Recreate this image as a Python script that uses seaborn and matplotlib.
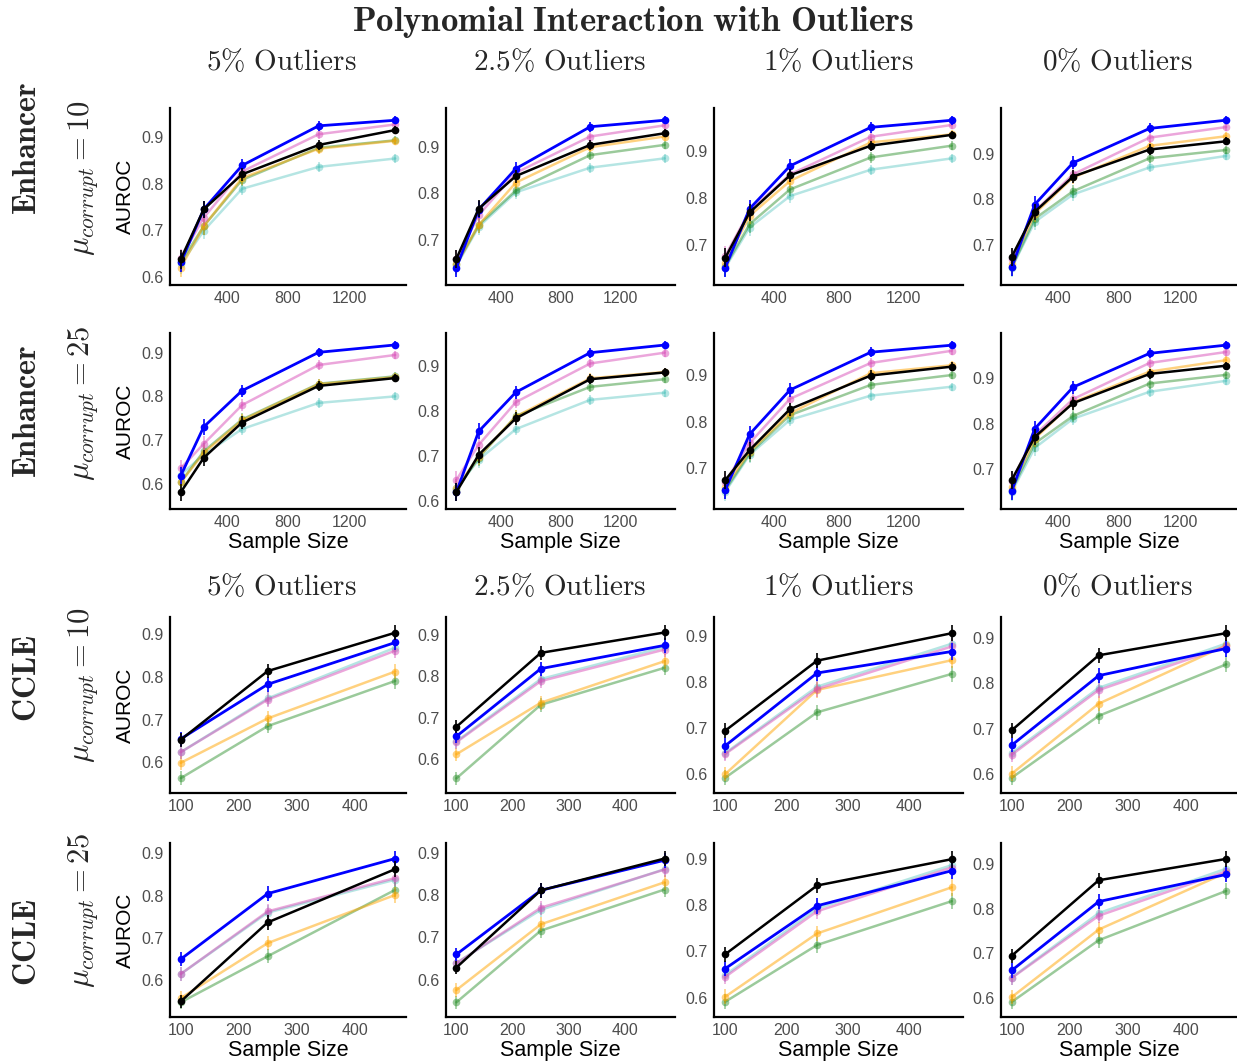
import numpy as np
import pandas as pd
import matplotlib
matplotlib.use("Agg")
import matplotlib.pyplot as plt
import seaborn as sns
from matplotlib.ticker import FormatStrFormatter

# sample sizes on the x axis
enh_sizes = [100, 250, 500, 1000, 1500]
ccle_sizes = [100, 250, 470]
enh_xticks = [400, 800, 1200]
ccle_xticks = [100, 200, 300, 400]
auroc_ticks = [0.6, 0.7, 0.8, 0.9]

# half-width of the error bars at each sample size
enh_err = [0.020, 0.018, 0.014, 0.011, 0.009]
ccle_err = [0.016, 0.017, 0.018]

outlier_labels = ["5\\%\\ Outliers", "2.5\\%\\ Outliers", "1\\%\\ Outliers", "0\\%\\ Outliers"]
datasets = ["Enhancer", "Enhancer", "CCLE", "CCLE"]
mu_values = ["10", "25", "10", "25"]

# draw order: faded ones first, blue and black on top
series_names = ["teal", "green", "orange", "pink", "blue", "black"]
series_colors = {"teal": "#20B2AA", "green": "#228B22", "orange": "#FFA500",
                 "pink": "#D84FB8", "blue": "#0000FF", "black": "#000000"}
series_alpha = {"teal": 0.33, "green": 0.45, "orange": 0.5,
                "pink": 0.5, "blue": 1.0, "black": 1.0}

# ---- Enhancer, mu_corrupt = 10 (one list per outlier column) ----
enh10_blue = [[0.631, 0.745, 0.839, 0.924, 0.936], [0.640, 0.765, 0.853, 0.943, 0.957],
              [0.652, 0.777, 0.868, 0.950, 0.965], [0.652, 0.789, 0.880, 0.955, 0.973]]
enh10_black = [[0.638, 0.745, 0.820, 0.883, 0.915], [0.659, 0.767, 0.837, 0.904, 0.929],
               [0.673, 0.769, 0.848, 0.911, 0.934], [0.675, 0.773, 0.850, 0.909, 0.927]]
enh10_pink = [[0.641, 0.727, 0.826, 0.906, 0.927], [0.658, 0.753, 0.844, 0.922, 0.946],
              [0.677, 0.772, 0.850, 0.930, 0.955], [0.671, 0.774, 0.855, 0.935, 0.958]]
enh10_orange = [[0.620, 0.709, 0.812, 0.875, 0.892], [0.647, 0.732, 0.823, 0.899, 0.922],
                [0.662, 0.762, 0.836, 0.918, 0.935], [0.660, 0.769, 0.848, 0.917, 0.938]]
enh10_green = [[0.631, 0.709, 0.808, 0.877, 0.893], [0.647, 0.732, 0.806, 0.882, 0.904],
               [0.655, 0.744, 0.818, 0.886, 0.911], [0.652, 0.758, 0.818, 0.890, 0.908]]
enh10_teal = [[0.627, 0.699, 0.789, 0.836, 0.854], [0.644, 0.728, 0.802, 0.855, 0.875],
              [0.652, 0.737, 0.804, 0.860, 0.884], [0.651, 0.751, 0.811, 0.870, 0.895]]

# ---- Enhancer, mu_corrupt = 25 ----
enh25_blue = [[0.618, 0.730, 0.813, 0.901, 0.918], [0.620, 0.755, 0.842, 0.930, 0.947],
              [0.654, 0.773, 0.868, 0.949, 0.964], [0.653, 0.789, 0.880, 0.954, 0.972]]
enh25_black = [[0.580, 0.659, 0.740, 0.824, 0.842], [0.620, 0.703, 0.784, 0.871, 0.886],
               [0.675, 0.739, 0.827, 0.899, 0.918], [0.677, 0.771, 0.845, 0.909, 0.927]]
enh25_pink = [[0.635, 0.691, 0.780, 0.872, 0.895], [0.647, 0.725, 0.820, 0.906, 0.930],
              [0.671, 0.754, 0.849, 0.926, 0.952], [0.675, 0.775, 0.854, 0.933, 0.957]]
enh25_orange = [[0.603, 0.670, 0.745, 0.828, 0.844], [0.629, 0.699, 0.788, 0.873, 0.887],
                [0.661, 0.736, 0.818, 0.904, 0.921], [0.662, 0.767, 0.847, 0.914, 0.939]]
enh25_green = [[0.603, 0.674, 0.747, 0.829, 0.846], [0.625, 0.696, 0.789, 0.854, 0.871],
               [0.654, 0.732, 0.814, 0.879, 0.900], [0.655, 0.757, 0.817, 0.888, 0.907]]
enh25_teal = [[0.620, 0.666, 0.725, 0.785, 0.800], [0.629, 0.692, 0.760, 0.825, 0.841],
              [0.650, 0.729, 0.804, 0.856, 0.875], [0.651, 0.747, 0.811, 0.870, 0.894]]

# ---- CCLE, mu_corrupt = 10 ----
ccle10_blue = [[0.655, 0.783, 0.881], [0.655, 0.818, 0.874], [0.661, 0.820, 0.867], [0.663, 0.817, 0.877]]
ccle10_black = [[0.653, 0.814, 0.904], [0.678, 0.856, 0.905], [0.694, 0.847, 0.907], [0.696, 0.862, 0.911]]
ccle10_pink = [[0.624, 0.747, 0.862], [0.641, 0.788, 0.864], [0.643, 0.785, 0.878], [0.642, 0.785, 0.882]]
ccle10_orange = [[0.599, 0.703, 0.813], [0.612, 0.736, 0.836], [0.599, 0.783, 0.848], [0.600, 0.755, 0.884]]
ccle10_green = [[0.563, 0.685, 0.791], [0.554, 0.731, 0.820], [0.591, 0.734, 0.818], [0.591, 0.728, 0.842]]
ccle10_teal = [[0.624, 0.750, 0.869], [0.643, 0.793, 0.870], [0.645, 0.790, 0.884], [0.646, 0.790, 0.888]]

# ---- CCLE, mu_corrupt = 25 ----
ccle25_blue = [[0.650, 0.805, 0.888], [0.660, 0.811, 0.882], [0.663, 0.799, 0.875], [0.661, 0.816, 0.877]]
ccle25_black = [[0.550, 0.737, 0.863], [0.629, 0.811, 0.886], [0.694, 0.843, 0.900], [0.694, 0.864, 0.912]]
ccle25_pink = [[0.615, 0.763, 0.842], [0.639, 0.770, 0.860], [0.645, 0.787, 0.882], [0.644, 0.784, 0.884]]
ccle25_orange = [[0.558, 0.688, 0.802], [0.576, 0.731, 0.830], [0.602, 0.739, 0.839], [0.601, 0.753, 0.881]]
ccle25_green = [[0.548, 0.657, 0.814], [0.547, 0.716, 0.813], [0.591, 0.714, 0.809], [0.590, 0.729, 0.840]]
ccle25_teal = [[0.615, 0.760, 0.838], [0.640, 0.765, 0.861], [0.649, 0.793, 0.887], [0.645, 0.790, 0.890]]

row_data = [
    {"teal": enh10_teal, "green": enh10_green, "orange": enh10_orange,
     "pink": enh10_pink, "blue": enh10_blue, "black": enh10_black},
    {"teal": enh25_teal, "green": enh25_green, "orange": enh25_orange,
     "pink": enh25_pink, "blue": enh25_blue, "black": enh25_black},
    {"teal": ccle10_teal, "green": ccle10_green, "orange": ccle10_orange,
     "pink": ccle10_pink, "blue": ccle10_blue, "black": ccle10_black},
    {"teal": ccle25_teal, "green": ccle25_green, "orange": ccle25_orange,
     "pink": ccle25_pink, "blue": ccle25_blue, "black": ccle25_black},
]

sns.set_style("white")
plt.rcParams["font.family"] = ["Liberation Sans", "DejaVu Sans"]
plt.rcParams["mathtext.fontset"] = "cm"

W, H = 1237, 1061
fig = plt.figure(figsize=(W / 100, H / 100), dpi=100)

# panel boxes in pixels: (left, right) per column, (top, bottom) per row
col_px = [(170, 406), (446, 675), (714, 963), (1001, 1237)]
row_px = [(108, 285), (333, 509), (617, 793), (843, 1017)]
title_x = [281, 560, 838, 1117]


def px_axes(l, r, t, b):
    return fig.add_axes([l / W, 1 - b / H, (r - l) / W, (b - t) / H])


for i in range(4):
    is_enh = datasets[i] == "Enhancer"
    sizes = enh_sizes if is_enh else ccle_sizes
    errs = enh_err if is_enh else ccle_err
    for j in range(4):
        l, r = col_px[j]
        t, b = row_px[i]
        ax = px_axes(l, r, t, b)
        for name in series_names:
            vals = np.array(row_data[i][name][j])
            df = pd.DataFrame({"size": sizes, "auroc": vals})
            col = series_colors[name]
            a = series_alpha[name]
            lw = 2.0 if name == "blue" else 1.8
            sns.lineplot(data=df, x="size", y="auroc", ax=ax, color=col, alpha=a,
                         linewidth=lw, marker="o", markersize=5.5,
                         markeredgewidth=0, zorder=3)
            ax.vlines(sizes, vals - np.array(errs), vals + np.array(errs),
                      color=col, alpha=a, linewidth=1.2, zorder=3)
        ax.margins(x=0.05, y=0.05)
        ax.autoscale_view()
        lo, hi = ax.get_ylim()
        ax.set_yticks([v for v in auroc_ticks if lo <= v <= hi])
        ax.set_ylim(lo, hi)
        ax.set_xticks(enh_xticks if is_enh else ccle_xticks)
        ax.yaxis.set_major_formatter(FormatStrFormatter("%.1f"))
        for s in ["top", "right"]:
            ax.spines[s].set_visible(False)
        for s in ["left", "bottom"]:
            ax.spines[s].set_color("black")
            ax.spines[s].set_linewidth(1.6)
        ax.tick_params(direction="out", length=3, width=0.8, color="#333333",
                       labelcolor="#4D4D4D", labelsize=11.5, pad=1.5)
        ax.grid(False)
        if j == 0:
            ax.set_ylabel("AUROC", fontsize=15, color="black")
            ax.yaxis.set_label_coords(-0.15, 0.5)
        else:
            ax.set_ylabel("")
        if i in (1, 3):
            ax.set_xlabel("Sample Size", fontsize=15.5, color="black", labelpad=1.5)
        else:
            ax.set_xlabel("")

# column titles over rows 1 and 3
for j in range(4):
    for y in (62, 587):
        fig.text(title_x[j] / W, 1 - y / H, "$\\mathrm{" + outlier_labels[j] + "}$",
                 ha="center", va="center", fontsize=21)

# row labels
row_center = [148, 411, 678, 942]
mu_center = [178, 403, 685, 910]
for i in range(4):
    fig.text(28 / W, 1 - row_center[i] / H, "$\\mathbf{" + datasets[i] + "}$",
             ha="center", va="center", rotation=90, fontsize=23)
    fig.text(83 / W, 1 - mu_center[i] / H, "$\\mu_{corrupt}=" + mu_values[i] + "$",
             ha="center", va="center", rotation=90, fontsize=22)

fig.text(633 / W, 1 - 22 / H, "$\\mathbf{Polynomial\\ Interaction\\ with\\ Outliers}$",
         ha="center", va="center", fontsize=25)

fig.savefig("out.png", dpi=100)
